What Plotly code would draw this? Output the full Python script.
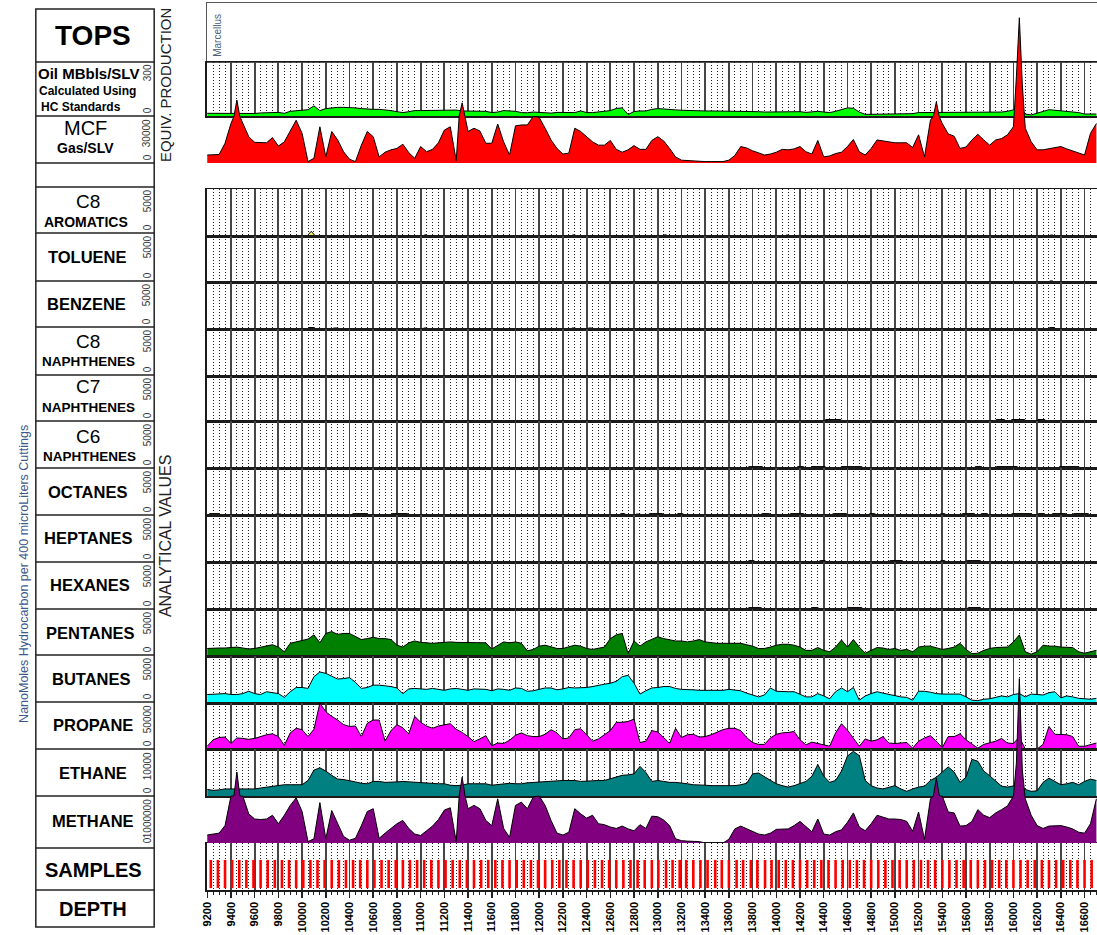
import plotly.graph_objects as go

W, H = 1097, 935
FONT = "Liberation Sans, Arial, Helvetica, sans-serif"

# ---------------- data (depth in ft) ----------------
depth = list(range(9200, 16701, 50))

oil = [15, 15, 15, 15, 15, 15, 12, 11, 14, 17, 19, 20, 20, 15, 26, 29, 30, 35, 56, 30,
       41, 46, 48, 48, 48, 45, 41, 38, 37, 37, 35, 30, 24, 19, 24, 30, 30, 30, 30, 30,
       31, 33, 33, 28, 28, 28, 28, 26, 19, 22, 30, 28, 26, 19, 18, 22, 20, 15, 16, 20,
       20, 20, 19, 28, 19, 19, 22, 24, 30, 42, 45, 8, 25, 28, 28,
       37, 41, 39, 35, 34, 32, 30, 28, 28, 28, 28, 28, 28, 28, 28, 28, 28, 26, 24, 22,
       22, 24, 24, 26, 26, 24, 20, 22, 26, 22, 19, 26, 34, 45, 43, 22, 9, 9, 11, 11,
       11, 11, 11, 9, 13, 19, 19, 19, 19, 19, 19, 19, 19, 20, 20, 19, 19, 20, 20, 22,
       26, 34, 56, 11, 6, 15, 28, 35, 32, 28, 26, 24, 19, 11, 11, 11]

gas = [5100, 5400, 5400, 12600, 25200, 40200, 25200, 16800, 13200, 12900,
       12900, 16200, 10800, 13500, 20100, 27300, 18900, 900, 3000, 23100,
       3900, 20100, 14700, 7200, 2400, 900, 11400, 20100, 16800, 3900,
       6900, 8400, 9300, 12000, 6600, 3000, 10500, 7200, 8700, 12900,
       21000, 23100, 1500, 38400, 20100, 22200, 20400, 12600, 12600, 24900,
       13500, 5100, 23700, 24300, 24300, 29700, 29100, 22200, 14700, 9300,
       5700, 6300, 22200, 20100, 17100, 13500, 11400, 11400, 14400, 8700,
       6900, 8400, 11100, 8700, 8700,
       14400, 16800, 14100, 9300, 3900, 1800, 1500, 1500, 1200, 900,
       900, 900, 900, 1800, 4800, 10500, 9600, 7800, 6300, 5100,
       5700, 6900, 8700, 8400, 9000, 10500, 7200, 5700, 14400, 3900,
       4500, 6000, 6900, 10500, 15000, 7200, 5100, 9300, 14700, 14100,
       13500, 12900, 12900, 12900, 9900, 18000, 3900, 27300, 39000, 25200,
       18600, 17100, 9300, 10200, 14700, 18300, 14700, 11400, 14700, 15600,
       18000, 23100, 92700, 22200, 13500, 8400, 8400, 9000, 9900, 10500,
       9000, 7800, 6300, 5100, 18900, 25200]
# readings on the shoulders of the narrow gas spikes
gas_shoulder_depth = [9425, 9475, 11325, 11375, 15325, 15375, 16025, 16075]
gas_shoulder = [29700, 29700, 30000, 29000, 30000, 29500, 55000, 50000]

pentanes = [800, 850, 850, 850, 900, 950, 850, 750, 800, 950,
            1100, 1200, 950, 450, 1350, 1500, 1700, 1800, 2250, 1400,
            2400, 2600, 2300, 2400, 2400, 2100, 1750, 1850, 2000, 1850,
            1850, 1750, 1150, 950, 1400, 1600, 1450, 1400, 1350, 1400,
            1450, 1500, 1450, 1450, 1450, 1450, 1450, 1400, 750, 1150,
            1500, 1400, 1500, 1350, 550, 700, 1050, 1150, 950, 800,
            800, 950, 1150, 1050, 800, 700, 850, 950, 1850, 2250,
            2400, 250, 1600, 1050, 1500,
            1750, 2050, 1850, 1700, 1600, 1600, 1500, 1600, 1750, 1500,
            1400, 1350, 1350, 1350, 1350, 1350, 1200, 1050, 800, 800,
            950, 1150, 1250, 1250, 1150, 950, 600, 600, 900, 600,
            450, 950, 1700, 950, 1750, 950, 300, 600, 900, 850,
            700, 800, 600, 700, 450, 950, 1050, 1050, 900, 700,
            800, 950, 1350, 700, 250, 300, 600, 800, 900, 900,
            950, 1500, 2250, 450, 200, 450, 1150, 1050, 1050, 950,
            950, 900, 450, 300, 450, 600]

butanes = [900, 950, 950, 1000, 900, 900, 1000, 1250, 1000, 900,
           1200, 1100, 1000, 600, 1200, 1650, 1650, 1550, 2800, 3300,
           3150, 2850, 2550, 2600, 2700, 2200, 1550, 1650, 1900, 1900,
           1850, 1750, 1600, 1000, 1500, 1550, 1500, 1450, 1550, 1450,
           1350, 1500, 1550, 1450, 1350, 1500, 1500, 1450, 1300, 1500,
           1450, 1350, 1600, 1550, 1250, 1300, 1450, 1600, 1600, 1400,
           1500, 1650, 1600, 1600, 1650, 1750, 1900, 2000, 2100, 2300,
           2800, 2950, 2100, 950, 1300,
           1600, 1650, 1750, 1750, 1550, 1450, 1450, 1400, 1350, 1350,
           1300, 1300, 1350, 1450, 1350, 1300, 1050, 850, 650, 850,
           1600, 1250, 1200, 1200, 1200, 900, 650, 650, 1000, 750,
           450, 1200, 1600, 1200, 1650, 300, 750, 1000, 1200, 1050,
           900, 750, 650, 600, 300, 1250, 1250, 1150, 1000, 950,
           950, 1000, 950, 650, 300, 250, 400, 450, 600, 750,
           650, 900, 1000, 650, 950, 900, 850, 1100, 1200, 550,
           750, 650, 500, 450, 400, 500]

propane = [3000, 10000, 12500, 13000, 6000, 12000, 11500, 10500, 11500, 13500,
           15500, 16500, 13500, 4000, 17500, 22500, 21000, 13500, 21500, 50000,
           40500, 35500, 31500, 26500, 24500, 25000, 13500, 28000, 31500, 31500,
           8500, 20000, 26500, 23000, 16500, 35500, 29000, 25000, 22500, 25000,
           26500, 27500, 21500, 18000, 13500, 8000, 11000, 14500, 3500, 6500,
           6000, 9500, 15000, 17500, 14500, 13500, 13500, 16000, 21000, 17500,
           11000, 12000, 21000, 22000, 15500, 8500, 11000, 15500, 20000, 29000,
           29000, 30000, 32500, 7000, 8500,
           20000, 18500, 12500, 6000, 22500, 12500, 15500, 16000, 13000, 13500,
           15500, 18500, 21000, 22500, 22500, 20000, 12500, 7000, 5000, 5000,
           12000, 16000, 17500, 18000, 19000, 10000, 4500, 7500, 6000, 4500,
           3000, 17500, 27500, 20500, 12000, 3000, 11000, 8500, 10000, 13500,
           6500, 6000, 6500, 7000, 1000, 8500, 12000, 14500, 8500, 1500,
           13500, 13500, 16500, 10000, 5500, 1000, 5000, 6500, 8500, 11500,
           6500, 6000, 13000, 0, 0, 0, 5000, 24500, 16000, 15500,
           15500, 13500, 3000, 3000, 4500, 6500]

ethane = [1400, 1200, 1300, 1500, 1500, 1500, 1600, 1600, 1500, 1700,
          1900, 2000, 2200, 2400, 2400, 2400, 2400, 3300, 5500, 6000,
          5300, 4400, 3600, 3500, 3300, 3000, 2700, 2600, 3100, 3100,
          2900, 2900, 3000, 3100, 3000, 2900, 2800, 2800, 2600, 2600,
          2600, 2300, 2200, 2300, 2600, 2600, 2600, 2600, 2300, 2400,
          2600, 2700, 2600, 2600, 2800, 2900, 3000, 3100, 3100, 3200,
          3300, 3300, 3300, 3100, 3200, 3300, 3300, 3300, 3700, 4100,
          4400, 4500, 4700, 6300, 5000,
          3100, 3300, 3100, 2900, 2900, 2800, 2600, 2400, 2400, 2300,
          2200, 2200, 2200, 2200, 2200, 2400, 2700, 4700, 4900, 4100,
          3300, 2600, 2200, 1900, 2200, 2600, 3100, 4200, 6700, 4200,
          2900, 3300, 5300, 8500, 9500, 8600, 3300, 2200, 1700, 1500,
          1900, 2200, 1500, 1000, 1500, 1900, 2100, 3300, 4000, 5000,
          6200, 5100, 2900, 4000, 7800, 7400, 5300, 4300, 3300, 2100,
          1900, 2200, 2400, 1400, 1000, 1100, 2900, 3800, 3100, 2400,
          2600, 2900, 2400, 3100, 3600, 3300]

methane = [170000, 190000, 210000, 370000, 1000000, 1510000, 1000000, 620000, 510000, 500000,
           510000, 590000, 410000, 590000, 800000, 960000, 670000, 30000, 90000, 860000,
           90000, 690000, 410000, 140000, 60000, 100000, 370000, 670000, 730000, 100000,
           210000, 310000, 410000, 480000, 310000, 190000, 160000, 260000, 360000, 500000,
           700000, 750000, 30000, 1400000, 730000, 800000, 730000, 480000, 370000, 940000,
           310000, 120000, 800000, 870000, 730000, 980000, 1000000, 800000, 480000, 210000,
           170000, 230000, 730000, 620000, 530000, 590000, 410000, 390000, 340000, 310000,
           360000, 300000, 260000, 390000, 310000,
           570000, 560000, 490000, 370000, 90000, 50000, 40000, 40000, 30000, 0,
           0, 0, 0, 80000, 300000, 360000, 300000, 250000, 190000, 170000,
           210000, 290000, 300000, 300000, 370000, 460000, 350000, 240000, 510000, 190000,
           170000, 240000, 280000, 440000, 640000, 340000, 260000, 410000, 590000, 550000,
           510000, 510000, 500000, 460000, 250000, 660000, 80000, 940000, 1380000, 1000000,
           660000, 640000, 360000, 370000, 460000, 710000, 590000, 540000, 640000, 710000,
           790000, 1000000, 3500000, 940000, 590000, 370000, 310000, 360000, 370000, 370000,
           340000, 300000, 230000, 210000, 410000, 940000]
methane_shoulder_depth = [9425, 9475, 11325, 11375, 15325, 15375, 16025, 16075]
methane_shoulder = [1000000, 1000000, 1000000, 1000000, 1000000, 1000000, 1700000, 1550000]

# small traces of heavier components: (from depth, to depth, value)
aromatics_blips = [(10077, 10077, 500), (11035, 11050, 120), (12285, 12300, 120),
                   (13055, 13070, 120), (14085, 14100, 100), (16315, 16330, 100)]
toluene_blips = [(16310, 16330, 120)]
benzene_blips = [(10060, 10100, 150), (10270, 10300, 100), (11030, 11050, 100),
                 (12280, 12300, 100), (12420, 12440, 100), (16310, 16340, 150)]
c8n_blips = []
c7n_blips = [(14420, 14540, 150), (15860, 15920, 150), (15990, 16090, 150), (16210, 16260, 150)]
c6n_blips = [(13770, 13880, 150), (14180, 14230, 150), (14300, 14410, 150), (14550, 14720, 150),
             (15680, 15730, 150), (15860, 16030, 150), (16390, 16550, 150)]
octanes_blips = [(9220, 9300, 150), (9780, 9820, 100), (10430, 10550, 150), (10760, 10890, 150),
                 (12690, 12720, 150), (12820, 12850, 100), (12930, 13040, 150), (13170, 13210, 150),
                 (13880, 13940, 150), (14120, 14230, 150), (14480, 14590, 150), (14790, 14830, 150),
                 (15390, 15420, 150), (15570, 15670, 150), (15730, 15780, 150), (15990, 16150, 150),
                 (16210, 16260, 150), (16330, 16440, 150), (16510, 16630, 150)]
heptanes_blips = [(13770, 13810, 150), (14370, 14410, 150), (14960, 15060, 150),
                  (15390, 15420, 150), (15610, 15720, 150)]
hexanes_blips = [(13770, 13870, 150), (14300, 14350, 150), (14600, 14720, 150), (15620, 15720, 150)]

sample_depth = [9230, 9290, 9350, 9410, 9470, 9530, 9590, 9650, 9710, 9770, 9830, 9890, 9950,
                10010, 10070, 10130, 10190, 10250, 10310, 10370, 10430, 10490, 10550, 10610,
                10670, 10730, 10790, 10850, 10910, 10970, 11030, 11090, 11150, 11210, 11270,
                11330, 11390, 11450, 11510, 11570, 11630, 11690, 11750, 11810, 11870, 11930,
                11990, 12050, 12110, 12170, 12230, 12290, 12350, 12410, 12470, 12530, 12590,
                12650, 12710, 12770, 12830, 12890, 12950, 13005, 13070, 13125, 13185, 13240,
                13300, 13360, 13420, 13485, 13540, 13600, 13665, 13720, 13785, 13840, 13905,
                13960, 14020, 14080, 14140, 14200, 14260, 14320, 14380, 14440, 14500, 14560,
                14620, 14680, 14740, 14800, 14860, 14920, 14980, 15040, 15100, 15160, 15220,
                15280, 15340, 15400, 15460, 15520, 15580, 15640, 15700, 15760, 15820, 15880,
                15940, 16000, 16060, 16120, 16180, 16240, 16300, 16360, 16420, 16480, 16540,
                16600, 16660]

# ---------------- layout geometry (pixels) ----------------
PLOT_X0 = 202
X_RANGE = [9197, 16705]

panels = [  # key, top px, bottom px, axis max
    ("tops", 3, 62, 1),
    ("oil", 62, 116, 300),
    ("gas", 116, 163, 30000),
    ("arom", 189, 236, 5000),
    ("tol", 236, 282, 5000),
    ("benz", 282, 329, 5000),
    ("c8n", 329, 376, 5000),
    ("c7n", 376, 421, 5000),
    ("c6n", 421, 468, 5000),
    ("oct", 468, 515, 5000),
    ("hept", 515, 562, 5000),
    ("hex", 562, 609, 5000),
    ("pent", 609, 656, 5000),
    ("but", 656, 703, 5000),
    ("prop", 703, 749, 50000),
    ("eth", 749, 796, 10000),
    ("meth", 796, 843, 1000000),
    ("samp", 843, 890, 1),
]
# extended axes so the tallest gas / methane peaks run over the panels above
ext_axes = [
    ("gas_ext", 3, 163, 30000 * (163 - 3) / (163 - 116)),
    ("meth_ext", 656, 843, 1000000 * (843 - 656) / (843 - 796)),
]

def aid(letter, i):
    return letter if i == 1 else f"{letter}{i}"

def lkey(letter, i):
    return f"{letter}axis" if i == 1 else f"{letter}axis{i}"

layout = dict(width=W, height=H, margin=dict(l=0, r=0, t=0, b=0),
              paper_bgcolor="white", plot_bgcolor="rgba(0,0,0,0)", showlegend=False,
              hovermode=False, font=dict(family=FONT, color="black"))

idx = {}
GRID_MINOR = dict(tick0=9200, dtick=50, showgrid=True, gridcolor="#202020",
                  griddash="1px,2px", gridwidth=1)
for i, (key, top, bot, ymax) in enumerate(panels, start=1):
    idx[key] = i
    xa = dict(domain=[PLOT_X0 / W, 1], range=X_RANGE, anchor=aid("y", i),
              showticklabels=False, ticks="", showline=True, mirror=True,
              linecolor="#1a1a1a", linewidth=1.5, zeroline=False, fixedrange=True)
    if key == "tops":
        xa.update(showgrid=False, linecolor="#555", linewidth=1.2)
    else:
        xa.update(showgrid=True, gridcolor="#454545", gridwidth=1.8, tick0=9200, dtick=200,
                  minor=dict(GRID_MINOR))
    if key == "samp":
        xa.update(showticklabels=True, ticks="outside", ticklen=6, tickwidth=1.5,
                  tickcolor="#222", tickangle=-90, tickformat="d",
                  tickfont=dict(size=11, color="black", family=FONT, weight="bold"),
                  minor=dict(GRID_MINOR, ticks="outside", ticklen=3, tickwidth=1,
                             tickcolor="#222"))
    ya = dict(domain=[1 - bot / H, 1 - top / H], range=[0, ymax], anchor=aid("x", i),
              showgrid=False, showticklabels=False, ticks="", zeroline=False,
              showline=True, linecolor="#1a1a1a", linewidth=1.5, fixedrange=True)
    if key == "tops":
        ya.update(linecolor="#555", linewidth=1.2)
    layout[lkey("x", i)] = xa
    layout[lkey("y", i)] = ya

n0 = len(panels)
for k, (key, top, bot, ymax) in enumerate(ext_axes, start=n0 + 1):
    idx[key] = k
    layout[lkey("x", k)] = dict(domain=[PLOT_X0 / W, 1], range=X_RANGE, anchor=aid("y", k),
                                visible=False, showgrid=False, fixedrange=True)
    layout[lkey("y", k)] = dict(domain=[1 - bot / H, 1 - top / H], range=[0, ymax],
                                anchor=aid("x", k), visible=False, showgrid=False,
                                fixedrange=True)

fig = go.Figure()

# empty trace so the TOPS frame is always drawn
fig.add_trace(go.Scatter(x=[], y=[], mode="lines", xaxis="x", yaxis="y", hoverinfo="skip"))

def area(x, y, color, key, width=1):
    i = idx[key]
    fig.add_trace(go.Scatter(x=x, y=y, mode="lines", fill="tozeroy", fillcolor=color,
                             line=dict(color="black", width=width),
                             xaxis=aid("x", i), yaxis=aid("y", i), hoverinfo="skip"))

def merged(xs, ys, extra_x, extra_y):
    pts = sorted(list(zip(xs, ys)) + list(zip(extra_x, extra_y)))
    return [p[0] for p in pts], [p[1] for p in pts]

def blip_xy(blips):
    xs, ys = [X_RANGE[0]], [0]
    for d0, d1, v in blips:
        if d0 == d1:
            xs += [d0 - 35, d0, d0 + 35]
            ys += [0, v, 0]
        else:
            xs += [d0 - 15, d0, d1, d1 + 15]
            ys += [0, v, v, 0]
    xs.append(16700)
    ys.append(0)
    return xs, ys

area(depth, oil, "#00FF00", "oil")
gx, gy = merged(depth, gas, gas_shoulder_depth, gas_shoulder)
area(gx, gy, "#FF0000", "gas_ext")

minor_sets = [("arom", aromatics_blips, "#F5E96A", 1), ("tol", toluene_blips, "#B0A040", 1),
              ("benz", benzene_blips, "#FF8C00", 1.2), ("c8n", c8n_blips, "#FF8C00", 1.8),
              ("c7n", c7n_blips, "#707070", 1.2), ("c6n", c6n_blips, "#707070", 1),
              ("oct", octanes_blips, "#F0E000", 1), ("hept", heptanes_blips, "#D00000", 1),
              ("hex", hexanes_blips, "#A00000", 1)]
for key, blips, col, lw in minor_sets:
    bx, by = blip_xy(blips)
    area(bx, by, col, key, lw)

area(depth, pentanes, "#008000", "pent")
area(depth, butanes, "#00FFFF", "but")
area(depth, propane, "#FF00FF", "prop")
area(depth, ethane, "#008080", "eth")
mx, my = merged(depth, methane, methane_shoulder_depth, methane_shoulder)
area(mx, my, "#800080", "meth_ext")

si = idx["samp"]
fig.add_trace(go.Bar(x=sample_depth, y=[0.6] * len(sample_depth), base=0.04, width=22,
                     marker=dict(color="#FF0000", line=dict(width=0)),
                     xaxis=aid("x", si), yaxis=aid("y", si), hoverinfo="skip"))

# ---------------- left label table ----------------
TX0, TX1 = 30, 149
rows = [9, 62, 116, 163, 187, 233, 281, 327, 375, 421, 468, 515, 562, 609, 655, 702,
        749, 796, 848, 890, 927]
shapes = [dict(type="rect", xref="paper", yref="paper", x0=TX0 / W, x1=TX1 / W,
               y0=1 - rows[-1] / H, y1=1 - rows[0] / H, line=dict(color="#222", width=1.5))]
for r in rows[1:-1]:
    shapes.append(dict(type="line", xref="paper", yref="paper", x0=TX0 / W, x1=TX1 / W,
                       y0=1 - r / H, y1=1 - r / H, line=dict(color="#222", width=1.5)))
layout["shapes"] = shapes

ann = []

def txt(s, cx, cy, size, bold=False, color="black", angle=0):
    ann.append(dict(text=s, x=cx / W, y=1 - cy / H, xref="paper", yref="paper",
                    showarrow=False, xanchor="center", yanchor="middle", textangle=angle,
                    font=dict(family=FONT, size=size, color=color,
                              weight="bold" if bold else "normal")))

labels = [("TOPS", 87, 35, 28, True), ("Oil MBbls/SLV", 83, 73, 15, True),
          ("Calculated Using", 82, 91, 12, True), ("HC Standards", 75, 107, 12, True),
          ("MCF", 80, 128, 20, False), ("Gas/SLV", 80, 148, 14, True),
          ("C8", 82, 201, 19, False), ("AROMATICS", 80, 222, 14, True),
          ("TOLUENE", 82, 257, 16.5, True), ("BENZENE", 81, 304, 16.5, True),
          ("C8", 82, 341, 19, False), ("NAPHTHENES", 83, 361, 13.5, True),
          ("C7", 82, 387, 19, False), ("NAPHTHENES", 83, 408, 13.5, True),
          ("C6", 82, 436, 19, False), ("NAPHTHENES", 84, 456, 13.5, True),
          ("OCTANES", 82, 492, 16.5, True), ("HEPTANES", 83, 538, 16.5, True),
          ("HEXANES", 84, 585, 16.5, True), ("PENTANES", 85, 633, 16.5, True),
          ("BUTANES", 86, 679, 16.5, True), ("PROPANE", 87, 725, 16.5, True),
          ("ETHANE", 87, 773, 16.5, True), ("METHANE", 87, 821, 16.5, True),
          ("SAMPLES", 88, 870, 20, True), ("DEPTH", 87, 909, 20, True)]
for s, cx, cy, sz, b in labels:
    txt(s, cx, cy, sz, b)

# axis scale text beside each panel: (top label, table row top, table row bottom)
scale_labels = [("300", 62, 116), ("30000", 116, 163),
                ("5000", 187, 233), ("5000", 233, 281), ("5000", 281, 327),
                ("5000", 327, 375), ("5000", 375, 421), ("5000", 421, 468),
                ("5000", 468, 515), ("5000", 515, 562), ("5000", 562, 609),
                ("5000", 609, 655), ("5000", 655, 702), ("50000", 702, 749),
                ("10000", 749, 796), ("1000000", 796, 846)]
for s, t, b in scale_labels:
    txt(s, 142, t + 2 + 3 * len(s), 10, False, "#333", -90)
    txt("0", 142, b - 6, 10, False, "#333", -90)

txt("EQUIV. PRODUCTION", 160, 85, 15, False, "#222", -90)
txt("ANALYTICAL VALUES", 160, 536, 16, False, "#222", -90)
txt("NanoMoles Hydrocarbon per 400 microLiters Cuttings", 18, 574, 12.5, False,
    "#3c5a8c", -90)
txt("Marcellus", 212, 35, 10, False, "#4a5a78", -90)
layout["annotations"] = ann

fig.update_layout(**layout)
fig.write_html("out.html", config={"displayModeBar": False, "staticPlot": True},
               post_script="document.body.style.margin='0';document.body.style.overflow='hidden';")
